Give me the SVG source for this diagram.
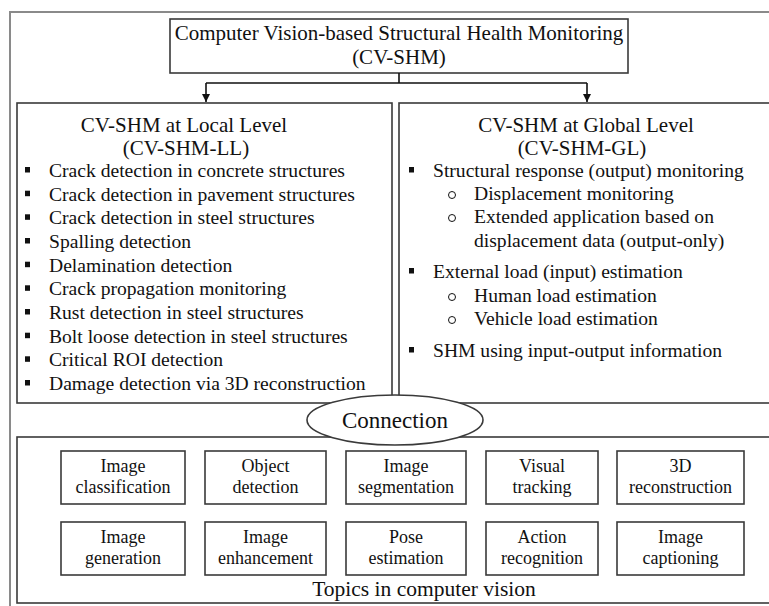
<svg xmlns="http://www.w3.org/2000/svg" width="769" height="606" viewBox="0 0 769 606">
<defs>
<style>
text{font-family:"Liberation Serif","Times New Roman",serif}
.t{font-size:21px;text-anchor:middle}
.b{font-size:19.6px}
.c{font-size:18px;text-anchor:middle}
.box{fill:#fff;stroke:#3a3a3a;stroke-width:1.6}
.frame{fill:none;stroke:#8a8a8a;stroke-width:2}
.sq{fill:#111}
.ci{fill:none;stroke:#111;stroke-width:1}
.con{fill:none;stroke:#111;stroke-width:1.6}
</style>
<marker id="ah" viewBox="0 0 10 10" refX="10" refY="5" markerWidth="5" markerHeight="5" orient="auto" markerUnits="strokeWidth">
<path d="M0,0 L10,5 L0,10 z" fill="#111"/>
</marker>
</defs>
<rect width="769" height="606" fill="#fff"/>
<g font-family="Liberation Serif, serif" fill="#111">
<rect class="frame" x="10" y="12" width="780" height="620"/>

<g id="root">
<rect class="box" x="170" y="19" width="458" height="54"/>
<text class="t" x="399" y="40">Computer Vision-based Structural Health Monitoring</text>
<text class="t" x="399" y="64">(CV-SHM)</text>
</g>

<g id="connectors">
<path class="con" d="M399,73 V83 M206,83 H587"/>
<path class="con" d="M206,83 V102" marker-end="url(#ah)"/>
<path class="con" d="M587,83 V102" marker-end="url(#ah)"/>
</g>

<g id="local">
<rect class="box" x="17" y="103" width="375" height="300"/>
<text class="t" x="184" y="132">CV-SHM at Local Level</text>
<text class="t" x="186" y="155">(CV-SHM-LL)</text>
<g class="b">
<text x="49" y="177">Crack detection in concrete structures</text>
<text x="49" y="200.7">Crack detection in pavement structures</text>
<text x="49" y="224.3">Crack detection in steel structures</text>
<text x="49" y="248">Spalling detection</text>
<text x="49" y="271.7">Delamination detection</text>
<text x="49" y="295.3">Crack propagation monitoring</text>
<text x="49" y="319">Rust detection in steel structures</text>
<text x="49" y="342.7">Bolt loose detection in steel structures</text>
<text x="49" y="366.3">Critical ROI detection</text>
<text x="49" y="390">Damage detection via 3D reconstruction</text>
</g>
<rect class="sq" x="25" y="167" width="5" height="5.5"/>
<rect class="sq" x="25" y="190.7" width="5" height="5.5"/>
<rect class="sq" x="25" y="214.3" width="5" height="5.5"/>
<rect class="sq" x="25" y="238" width="5" height="5.5"/>
<rect class="sq" x="25" y="261.7" width="5" height="5.5"/>
<rect class="sq" x="25" y="285.3" width="5" height="5.5"/>
<rect class="sq" x="25" y="309" width="5" height="5.5"/>
<rect class="sq" x="25" y="332.7" width="5" height="5.5"/>
<rect class="sq" x="25" y="356.3" width="5" height="5.5"/>
<rect class="sq" x="25" y="380" width="5" height="5.5"/>
</g>

<g id="global">
<rect class="box" x="399" y="103" width="372" height="300"/>
<text class="t" x="586" y="132">CV-SHM at Global Level</text>
<text class="t" x="582" y="155">(CV-SHM-GL)</text>
<g class="b">
<text x="433" y="177">Structural response (output) monitoring</text>
<text x="474" y="200">Displacement monitoring</text>
<text x="474" y="223">Extended application based on</text>
<text x="474" y="247">displacement data (output-only)</text>
<text x="433" y="278">External load (input) estimation</text>
<text x="474" y="302">Human load estimation</text>
<text x="474" y="325">Vehicle load estimation</text>
<text x="433" y="357">SHM using input-output information</text>
</g>
<rect class="sq" x="409" y="167" width="5" height="5.5"/>
<rect class="sq" x="409" y="268" width="5" height="5.5"/>
<rect class="sq" x="409" y="347" width="5" height="5.5"/>
<circle class="ci" cx="452" cy="195" r="3.5"/>
<circle class="ci" cx="452" cy="218" r="3.5"/>
<circle class="ci" cx="452" cy="297" r="3.5"/>
<circle class="ci" cx="452" cy="320" r="3.5"/>
</g>

<g id="topics">
<rect class="box" x="17" y="437" width="760" height="166"/>
<text x="424" y="596" style="font-size:21.5px;text-anchor:middle">Topics in computer vision</text>
</g>

<g id="connection">
<ellipse class="box" cx="395" cy="420" rx="88" ry="25"/>
<text x="395" y="428" style="font-size:23px;text-anchor:middle">Connection</text>
</g>

<g id="img-class"><rect class="box" x="61" y="451" width="124" height="53"/><text class="c" x="123" y="472">Image</text><text class="c" x="123" y="493">classification</text></g>
<g id="obj-det"><rect class="box" x="205" y="451" width="121" height="53"/><text class="c" x="265.5" y="472">Object</text><text class="c" x="265.5" y="493">detection</text></g>
<g id="img-seg"><rect class="box" x="346" y="451" width="120" height="53"/><text class="c" x="406" y="472">Image</text><text class="c" x="406" y="493">segmentation</text></g>
<g id="vis-track"><rect class="box" x="486" y="451" width="112" height="53"/><text class="c" x="542" y="472">Visual</text><text class="c" x="542" y="493">tracking</text></g>
<g id="recon3d"><rect class="box" x="617" y="451" width="127" height="53"/><text class="c" x="680.5" y="472">3D</text><text class="c" x="680.5" y="493">reconstruction</text></g>

<g id="img-gen"><rect class="box" x="61" y="522" width="124" height="53"/><text class="c" x="123" y="543">Image</text><text class="c" x="123" y="564">generation</text></g>
<g id="img-enh"><rect class="box" x="205" y="522" width="121" height="53"/><text class="c" x="265.5" y="543">Image</text><text class="c" x="265.5" y="564">enhancement</text></g>
<g id="pose"><rect class="box" x="346" y="522" width="120" height="53"/><text class="c" x="406" y="543">Pose</text><text class="c" x="406" y="564">estimation</text></g>
<g id="action"><rect class="box" x="486" y="522" width="112" height="53"/><text class="c" x="542" y="543">Action</text><text class="c" x="542" y="564">recognition</text></g>
<g id="caption"><rect class="box" x="617" y="522" width="127" height="53"/><text class="c" x="680.5" y="543">Image</text><text class="c" x="680.5" y="564">captioning</text></g>
</g>
</svg>
